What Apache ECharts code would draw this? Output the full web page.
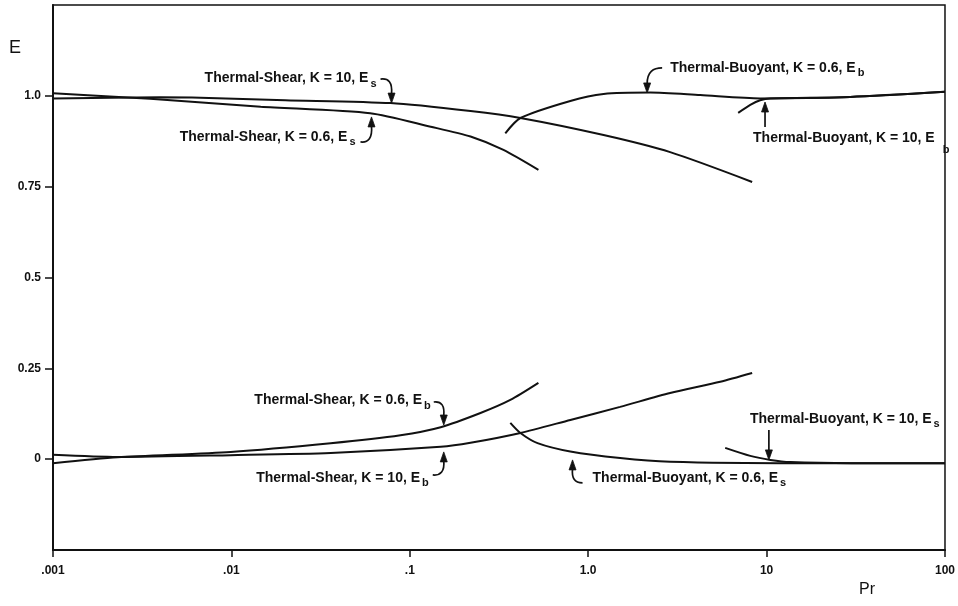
<!DOCTYPE html>
<html>
<head>
<meta charset="utf-8">
<title>E vs Pr</title>
<script src="https://cdn.jsdelivr.net/npm/echarts@6/dist/echarts.min.js"></script>
<style>
  html, body { margin: 0; padding: 0; background: #fff; }
  #main { width: 958px; height: 606px; }
</style>
</head>
<body>
<div id="main"></div>
<script>
// Axis tick labels
const xTickLabels = ['.001', '.01', '.1', '1.0', '10', '100'];
const yTickValues = [0, 0.25, 0.5, 0.75, 1.0];
const yTickLabels = ['0', '0.25', '0.5', '0.75', '1.0'];

// Thermal-Shear, K = 10, E_s
const prShearK10Es = [0.001, 0.004, 0.0067, 0.02, 0.078, 0.219, 0.417, 1.22, 2.88, 8.3];
const eShearK10Es  = [0.993, 0.996, 0.995, 0.988, 0.98, 0.958, 0.939, 0.892, 0.845, 0.763];

// Thermal-Shear, K = 0.6, E_s
const prShearK06Es = [0.001, 0.0035, 0.0146, 0.06, 0.131, 0.219, 0.335, 0.526];
const eShearK06Es  = [1.007, 0.992, 0.97, 0.952, 0.915, 0.888, 0.851, 0.796];

// Thermal-Buoyant, K = 0.6, E_b
const prBuoyK06Eb = [0.343, 0.417, 0.794, 1.22, 2.23, 4.25, 9.2, 29.4, 100];
const eBuoyK06Eb  = [0.897, 0.939, 0.986, 1.005, 1.009, 1.002, 0.993, 0.997, 1.011];

// Thermal-Buoyant, K = 10, E_b
const prBuoyK10Eb = [6.93, 8.1, 9.2, 10.5, 29.4, 100];
const eBuoyK10Eb  = [0.953, 0.975, 0.988, 0.993, 0.997, 1.011];

// Thermal-Shear, K = 0.6, E_b
const prShearK06Eb = [0.001, 0.0023, 0.0099, 0.036, 0.0887, 0.149, 0.249, 0.366, 0.526];
const eShearK06Eb  = [-0.011, 0.005, 0.02, 0.044, 0.066, 0.088, 0.127, 0.163, 0.21];

// Thermal-Shear, K = 10, E_b
const prShearK10Eb = [0.001, 0.0023, 0.0099, 0.036, 0.149, 0.219, 0.417, 0.794, 1.51, 2.88, 5.5, 8.3];
const eShearK10Eb  = [0.012, 0.006, 0.011, 0.017, 0.034, 0.045, 0.072, 0.108, 0.144, 0.182, 0.213, 0.237];

// Thermal-Buoyant, K = 0.6, E_s
const prBuoyK06Es = [0.366, 0.417, 0.52, 0.794, 1.51, 2.88, 15.3, 100];
const eBuoyK06Es  = [0.1, 0.072, 0.044, 0.021, 0.003, -0.007, -0.011, -0.011];

// Thermal-Buoyant, K = 10, E_s
const prBuoyK10Es = [5.86, 8.1, 10.5, 13.6, 30, 100];
const eBuoyK10Es  = [0.031, 0.009, -0.002, -0.008, -0.011, -0.011];

// Curve annotations: label text, subscript, and the point the arrow touches
const noteTexts = [
  'Thermal-Shear, K = 10, E',
  'Thermal-Shear, K = 0.6, E',
  'Thermal-Buoyant, K = 0.6, E',
  'Thermal-Buoyant, K = 10, E',
  'Thermal-Shear, K = 0.6, E',
  'Thermal-Shear, K = 10, E',
  'Thermal-Buoyant, K = 10, E',
  'Thermal-Buoyant, K = 0.6, E'
];
const noteSubs = ['s', 's', 'b', 'b', 'b', 'b', 's', 's'];
const notePr = [0.079, 0.061, 2.14, 9.8, 0.155, 0.155, 10.3, 0.817];
const noteE  = [0.980, 0.942, 1.008, 0.983, 0.094, 0.020, -0.002, -0.002];

const pairs = (xs, ys) => xs.map((x, i) => [x, ys[i]]);

const FONT = '"Liberation Sans", Arial, Helvetica, sans-serif';
const INK = '#111';

const curves = [
  [prShearK10Es, eShearK10Es],
  [prShearK06Es, eShearK06Es],
  [prBuoyK06Eb, eBuoyK06Eb],
  [prBuoyK10Eb, eBuoyK10Eb],
  [prShearK06Eb, eShearK06Eb],
  [prShearK10Eb, eShearK10Eb],
  [prBuoyK06Es, eBuoyK06Es],
  [prBuoyK10Es, eBuoyK10Es]
];

const chart = echarts.init(document.getElementById('main'), null, { renderer: 'canvas' });

chart.setOption({
  animation: false,
  backgroundColor: '#fff',
  grid: {
    left: 53, right: 12, top: 5, bottom: 56,
    show: true, borderColor: INK, borderWidth: 1.5, backgroundColor: 'transparent'
  },
  xAxis: {
    type: 'log',
    logBase: 10,
    min: 0.001,
    max: 100,
    splitLine: { show: false },
    minorTick: { show: false },
    axisLine: { show: true, onZero: false, lineStyle: { color: INK, width: 2 } },
    axisTick: { show: true, inside: false, length: 7, lineStyle: { color: INK, width: 1.5 } },
    axisLabel: {
      color: INK, fontFamily: FONT, fontSize: 12, fontWeight: 'bold', margin: 15,
      formatter: v => xTickLabels[Math.round(Math.log10(v)) + 3] || ''
    }
  },
  yAxis: {
    type: 'value',
    min: -0.25,
    max: 1.25,
    interval: 0.25,
    splitLine: { show: false },
    axisLine: { show: true, onZero: false, lineStyle: { color: INK, width: 2 } },
    axisTick: {
      show: true, inside: false, length: 8, lineStyle: { color: INK, width: 1.5 },
      customValues: yTickValues
    },
    axisLabel: {
      color: INK, fontFamily: FONT, fontSize: 12, fontWeight: 'bold', margin: 12,
      customValues: yTickValues,
      formatter: v => {
        const i = yTickValues.findIndex(t => Math.abs(t - v) < 1e-9);
        return i >= 0 ? yTickLabels[i] : '';
      }
    }
  },
  series: curves.map(([xs, ys]) => ({
    type: 'line',
    data: pairs(xs, ys),
    smooth: 0.25,
    showSymbol: false,
    symbol: 'none',
    lineStyle: { color: INK, width: 2 },
    silent: true
  }))
});

// Arrow shapes (start, two control points, end, relative to the annotated point)
// and label placement in pixel offsets
const noteStyle = [
  { curve: [-11, -24, -3, -25, 1, -21, 0, -9], head: 'down', dx: -15, dy: -25, align: 'right' },
  { curve: [-11, 25, -3, 26, 1, 21, 0, 9],     head: 'up',   dx: -16, dy: 20,  align: 'right' },
  { curve: [15, -25, 6, -25, 0, -21, 0, -9],   head: 'down', dx: 23,  dy: -25, align: 'left' },
  { curve: [0, 25, 0, 20, 0, 14, 0, 9],        head: 'up',   dx: -12, dy: 36,  align: 'left', lowSub: true },
  { curve: [-10, -23, -2, -24, 1, -19, 0, -9], head: 'down', dx: -13, dy: -25, align: 'right' },
  { curve: [-11, 23, -3, 24, 1, 19, 0, 9],     head: 'up',   dx: -15, dy: 26,  align: 'right' },
  { curve: [0, -30, 0, -23, 0, -16, 0, -9],    head: 'down', dx: -19, dy: -41, align: 'left' },
  { curve: [10, 23, 2, 23, -1, 18, 0, 9],      head: 'up',   dx: 20,  dy: 18,  align: 'left' }
];

const graphics = [];
noteTexts.forEach((txt, i) => {
  const [px, py] = chart.convertToPixel({ xAxisIndex: 0, yAxisIndex: 0 }, [notePr[i], noteE[i]]);
  const st = noteStyle[i];
  const c = st.curve;
  graphics.push({
    type: 'bezierCurve', x: px, y: py, silent: true,
    shape: { x1: c[0], y1: c[1], cpx1: c[2], cpy1: c[3], cpx2: c[4], cpy2: c[5], x2: c[6], y2: c[7] },
    style: { stroke: INK, lineWidth: 1.7, fill: null }
  });
  const headPts = st.head === 'down'
    ? [[0, 0], [-3.5, -10], [3.5, -10]]
    : [[0, 0], [-3.5, 10], [3.5, 10]];
  graphics.push({
    type: 'polygon', x: px, y: py, silent: true,
    shape: { points: headPts },
    style: { fill: INK, stroke: INK, lineWidth: 0.8 }
  });
  graphics.push({
    type: 'text', x: px + st.dx, y: py + st.dy, silent: true,
    style: {
      text: '{m|' + txt + '}{' + (st.lowSub ? 'l' : 's') + '|' + noteSubs[i] + '}',
      align: st.align,
      verticalAlign: 'middle',
      rich: {
        m: { fontFamily: FONT, fontSize: 14, fontWeight: 'bold', fill: INK },
        s: { fontFamily: FONT, fontSize: 11, fontWeight: 'bold', fill: INK, padding: [11, 0, 0, 2] },
        l: { fontFamily: FONT, fontSize: 11, fontWeight: 'bold', fill: INK, padding: [24, 0, 0, 8] }
      }
    }
  });
});

// Axis titles
graphics.push({
  type: 'text', left: 9, top: 39, silent: true,
  style: { text: 'E', fontFamily: FONT, fontSize: 18, fill: INK }
});
graphics.push({
  type: 'text', left: 859, top: 582, silent: true,
  style: { text: 'Pr', fontFamily: FONT, fontSize: 16, fill: INK }
});

chart.setOption({ graphic: graphics });
</script>
</body>
</html>
